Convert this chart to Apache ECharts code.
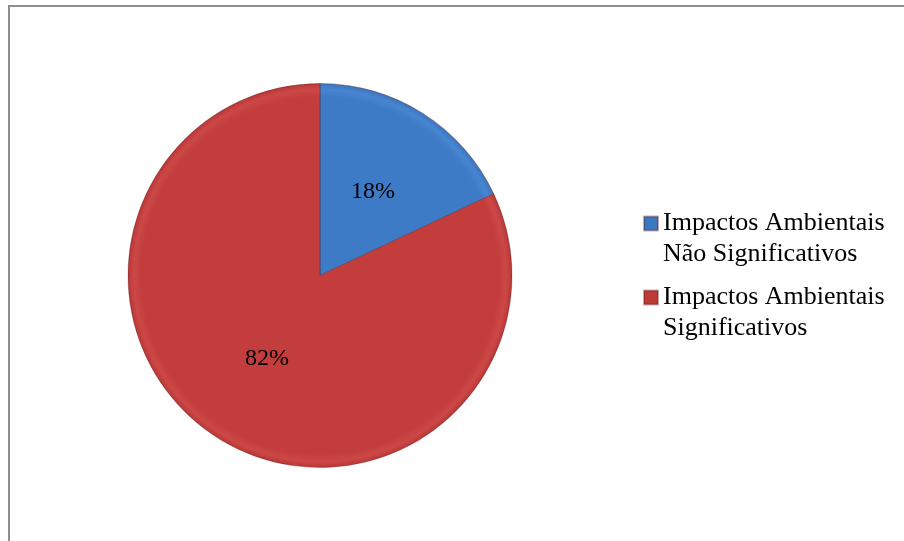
<!DOCTYPE html>
<html>
<head>
<meta charset="utf-8">
<script src="https://cdn.jsdelivr.net/npm/echarts@6/dist/echarts.min.js"></script>
<style>
  html, body { margin: 0; padding: 0; background: #ffffff; }
  #chart { width: 904px; height: 541px; }
</style>
</head>
<body>
<div id="chart"></div>
<script>
// Share of environmental impacts by significance
const categories = ['Impactos Ambientais Não Significativos', 'Impactos Ambientais Significativos'];
const legendLines = [['Impactos Ambientais', 'Não Significativos'], ['Impactos Ambientais', 'Significativos']];
const values = [18, 82];

const CX = 320, CY = 275.5, R = 192;

function bevel(base, rim, edge) {
  return {
    type: 'radial', x: CX, y: CY, r: R, global: true,
    colorStops: [
      { offset: 0, color: base },
      { offset: 0.93, color: base },
      { offset: 0.97, color: rim },
      { offset: 1, color: edge }
    ]
  };
}
const fills = [
  bevel('#3d7bc7', '#4886d2', '#3a74bd'),
  bevel('#c23d3c', '#cc4847', '#b83736')
];
const iconColors = ['#3c78c2', '#be3b3a'];

const chart = echarts.init(document.getElementById('chart'));
chart.setOption({
  animation: false,
  backgroundColor: '#ffffff',
  graphic: [{
    type: 'rect',
    shape: { x: 9, y: 6, width: 1000, height: 1000 },
    style: { fill: 'none', stroke: '#8e8e8e', lineWidth: 2 },
    silent: true
  }],
  legend: {
    orient: 'vertical',
    left: 643,
    top: 177,
    padding: 0,
    itemWidth: 14,
    itemHeight: 14,
    itemGap: -19,
    icon: 'rect',
    data: categories.map((name, i) => ({ name, itemStyle: { color: iconColors[i] } })),
    // leading blank line keeps the marker beside the first text line
    formatter: name => '\n' + legendLines[categories.indexOf(name)].join('\n'),
    textStyle: {
      fontFamily: '"Liberation Serif", "Times New Roman", serif',
      fontSize: 26,
      lineHeight: 31,
      color: '#000000'
    }
  },
  series: [{
    type: 'pie',
    center: [CX, CY],
    radius: [0, R],
    startAngle: 90,
    clockwise: true,
    label: {
      position: 'inside',
      formatter: p => p.value + '%',
      fontFamily: '"Liberation Serif", "Times New Roman", serif',
      fontSize: 24,
      color: '#000000'
    },
    labelLine: { show: false },
    emphasis: { disabled: true },
    data: categories.map((name, i) => ({
      name,
      value: values[i],
      itemStyle: { color: fills[i], borderColor: 'rgba(90,20,20,0.35)', borderWidth: 1 }
    }))
  }]
});
</script>
</body>
</html>
